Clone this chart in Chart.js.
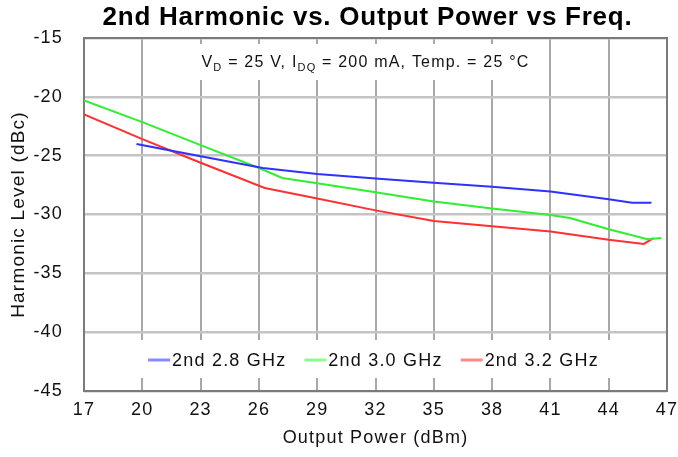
<!DOCTYPE html>
<html>
<head>
<meta charset="utf-8">
<style>
  html, body { margin: 0; padding: 0; background: #fff; }
  #harmonicChart { display: block; }
</style>
</head>
<body>
<canvas id="harmonicChart" width="678" height="457"></canvas>

<script src="https://cdn.jsdelivr.net/npm/chart.js@4.4.0/dist/chart.umd.min.js"></script>
<script>
  // values
  const seriesLabels = ['2nd 2.8 GHz', '2nd 3.0 GHz', '2nd 3.2 GHz'];

  const power28 = [19.7, 23, 26.2, 29, 32, 35, 38, 41, 44, 45.2, 46.2];
  const level28 = [-24.0, -25.05, -26.05, -26.55, -26.95, -27.3, -27.65, -28.05, -28.7, -29.0, -29.0];

  const power30 = [17, 20, 23, 26, 27.2, 29, 32, 35, 38, 41, 42, 44, 46, 46.7];
  const level30 = [-20.3, -22.15, -24.1, -26.05, -26.9, -27.35, -28.1, -28.9, -29.5, -30.05, -30.3, -31.25, -32.1, -32.0];

  const power32 = [17, 20, 23, 26.3, 29, 32, 35, 38, 41, 44, 45.8, 46.3];
  const level32 = [-21.5, -23.6, -25.6, -27.75, -28.64, -29.65, -30.55, -31.0, -31.45, -32.15, -32.5, -32.0];

  const xMin = 17, xMax = 47, xStep = 3;
  const yMin = -45, yMax = -15, yStep = 5;

  const chartTitle = '2nd Harmonic vs. Output Power vs Freq.';
  const xTitle = 'Output Power (dBm)';
  const yTitle = 'Harmonic Level (dBc)';
  // subtitle pieces: [text, isSubscript]
  const conditions = [['V', false], ['D', true], [' = 25 V, I', false], ['DQ', true], [' = 200 mA, Temp. = 25 °C', false]];

  const lineColors = ['#3030ff', '#30ee30', '#ff3030'];
  const keyColors = ['#8888ff', '#88ff88', '#ff8888'];
  const FONT = "'Liberation Sans', Arial, sans-serif";
  const SPACING = '1.2px';

  function toPoints(xs, ys) {
    return xs.map((x, i) => ({ x: x, y: ys[i] }));
  }

  const overlay = {
    id: 'overlay',
    afterInit(chart) { chart.ctx.letterSpacing = SPACING; },
    beforeUpdate(chart) { chart.ctx.letterSpacing = SPACING; },
    beforeDraw(chart) { chart.ctx.letterSpacing = SPACING; },
    beforeDatasetsDraw(chart) {
      const ctx = chart.ctx;
      const a = chart.chartArea;
      const cx = (a.left + a.right) / 2;
      ctx.save();
      ctx.letterSpacing = SPACING;

      // plot frame
      ctx.strokeStyle = '#7a7a7a';
      ctx.lineWidth = 2;
      ctx.strokeRect(a.left, a.top, a.right - a.left, a.bottom - a.top);

      // conditions box
      const mainFont = '16px ' + FONT;
      const subFont = '11px ' + FONT;
      let total = 0;
      conditions.forEach(p => {
        ctx.font = p[1] ? subFont : mainFont;
        total += ctx.measureText(p[0]).width;
      });
      const sx = cx - 10 - total / 2;
      const sy = a.top + 25;
      ctx.fillStyle = '#fff';
      ctx.fillRect(sx - 8, a.top + 6, total + 16, 36);
      ctx.fillStyle = '#111';
      ctx.textBaseline = 'middle';
      ctx.textAlign = 'left';
      let px = sx;
      conditions.forEach(p => {
        ctx.font = p[1] ? subFont : mainFont;
        ctx.fillText(p[0], px, p[1] ? sy + 5 : sy);
        px += ctx.measureText(p[0]).width;
      });

      // key inside the plot
      ctx.font = '18px ' + FONT;
      const sw = 22, gap = 2, itemGap = 18;
      const widths = chart.data.datasets.map(d => sw + gap + ctx.measureText(d.label).width);
      const lw = widths.reduce((s, w) => s + w, 0) + itemGap * (widths.length - 1);
      const ly = a.bottom - 31;
      let lx = cx - 2 - lw / 2;
      ctx.fillStyle = '#fff';
      ctx.fillRect(lx - 14, ly - 20, lw + 28, 38);
      chart.data.datasets.forEach((d, i) => {
        ctx.strokeStyle = keyColors[i];
        ctx.lineWidth = 3;
        ctx.beginPath();
        ctx.moveTo(lx, ly);
        ctx.lineTo(lx + sw, ly);
        ctx.stroke();
        ctx.fillStyle = '#111';
        ctx.fillText(d.label, lx + sw + gap, ly + 1);
        lx += widths[i] + itemGap;
      });
      ctx.restore();
    },
    afterDraw(chart) {
      const ctx = chart.ctx;
      const a = chart.chartArea;
      ctx.save();
      ctx.letterSpacing = '0.75px';
      ctx.font = 'bold 26px ' + FONT;
      ctx.fillStyle = '#000';
      ctx.textAlign = 'center';
      ctx.textBaseline = 'middle';
      ctx.fillText(chartTitle, (a.left + a.right) / 2 - 8, 18);
      ctx.restore();
    }
  };

  const ctx = document.getElementById('harmonicChart').getContext('2d');
  new Chart(ctx, {
    type: 'line',
    data: {
      datasets: [
        { label: seriesLabels[0], data: toPoints(power28, level28) },
        { label: seriesLabels[1], data: toPoints(power30, level30) },
        { label: seriesLabels[2], data: toPoints(power32, level32) }
      ].map((d, i) => Object.assign(d, {
        borderColor: lineColors[i],
        backgroundColor: lineColors[i],
        borderWidth: 2,
        pointRadius: 0,
        tension: 0,
        fill: false
      }))
    },
    options: {
      responsive: false,
      animation: false,
      layout: { padding: { top: 38, left: 2, right: 11, bottom: 4 } },
      plugins: {
        legend: { display: false },
        title: { display: false },
        tooltip: { enabled: false }
      },
      scales: {
        x: {
          type: 'linear',
          min: xMin,
          max: xMax,
          afterFit(scale) {
            scale.height = 62;
            scale.paddingLeft = 0;
            scale.paddingRight = 0;
          },
          ticks: { stepSize: xStep, padding: 8, color: '#111', font: { family: FONT, size: 18 } },
          grid: { color: '#a8a8a8', lineWidth: 2, drawTicks: false },
          border: { display: false },
          title: { display: true, text: xTitle, color: '#111', font: { family: FONT, size: 18 }, padding: { top: 6, bottom: 4 } }
        },
        y: {
          min: yMin,
          max: yMax,
          afterFit(scale) { scale.width = 82; },
          ticks: { stepSize: yStep, padding: 21, color: '#111', font: { family: FONT, size: 18 } },
          grid: { color: '#c4c4c4', lineWidth: 2.5, drawTicks: false },
          border: { display: false },
          title: { display: true, text: yTitle, color: '#111', font: { family: FONT, size: 19 }, padding: { top: 5, bottom: 4 } }
        }
      }
    },
    plugins: [overlay]
  });
</script>
</body>
</html>
